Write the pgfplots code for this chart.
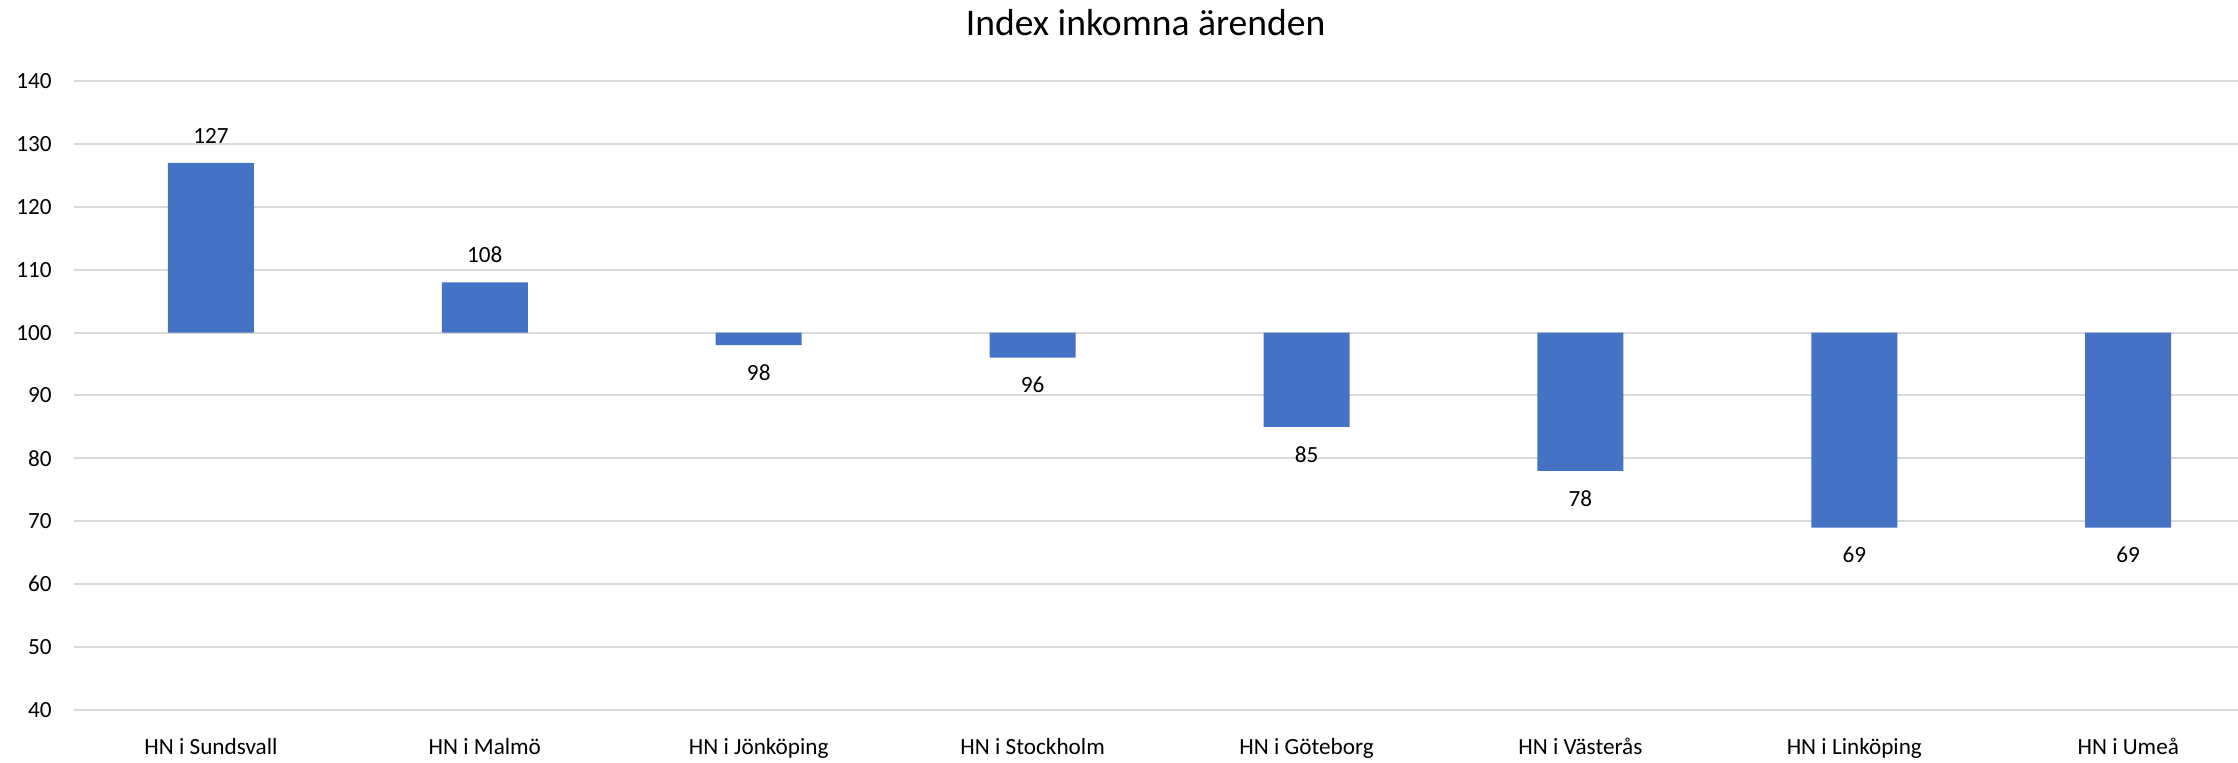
\documentclass[border=0pt]{standalone}
\usepackage{fontspec}
\setmainfont{Carlito}
\usepackage{pgfplots}
\pgfplotsset{compat=1.18}
\definecolor{barblue}{HTML}{4472C4}
\definecolor{gridgray}{HTML}{D9D9D9}
\begin{document}
\begin{tikzpicture}
\begin{axis}[
  at={(37pt,26.5pt)}, anchor=south west,
  width=1082pt, height=314.5pt, scale only axis,
  xmin=-0.5, xmax=7.4,
  ymin=40, ymax=140,
  y coord trafo/.code={\pgfmathparse{#1-100}},
  y coord inv trafo/.code={\pgfmathparse{#1+100}},
  ytick={40,50,60,70,80,90,100,110,120,130,140},
  yticklabels={40,50,60,70,80,90,100,110,120,130,140},
  xtick={0,1,2,3,4,5,6,7},
  xticklabels={HN i Sundsvall,HN i Malmö,HN i Jönköping,HN i Stockholm,HN i Göteborg,HN i Västerås,HN i Linköping,HN i Umeå},
  ymajorgrids, major grid style={gridgray, line width=1pt},
  axis line style={draw=none},
  major tick length=0pt,
  tick label style={font=\fontsize{11.6}{13}\selectfont, inner sep=0pt},
  yticklabel style={anchor=east, xshift=-11pt},
  xticklabel style={anchor=base, yshift=-22.5pt},
  /pgf/number format/assume math mode=true,
  clip=false,
]
\addplot[ybar, bar width=43pt, fill=barblue, draw=none]
  coordinates {(0,127) (1,108) (2,98) (3,96) (4,85) (5,78) (6,69) (7,69)};
% labels above bars
\addplot[draw=none, mark=none, nodes near coords={\pgfplotspointmeta}, point meta=explicit symbolic,
  every node near coord/.style={anchor=south, yshift=9.5pt, inner sep=0pt, font=\fontsize{11.6}{13}\selectfont}]
  coordinates {(0,127) [127] (1,108) [108]};
% labels below bars
\addplot[draw=none, mark=none, nodes near coords={\pgfplotspointmeta}, point meta=explicit symbolic,
  every node near coord/.style={anchor=north, yshift=-9.5pt, inner sep=0pt, font=\fontsize{11.6}{13}\selectfont}]
  coordinates {(2,98) [98] (3,96) [96] (4,85) [85] (5,78) [78] (6,69) [69] (7,69) [69]};
\end{axis}
\node[anchor=base, inner sep=0pt, font=\fontsize{18.8}{22}\selectfont] at (572.8pt,363.5pt) {Index inkomna ärenden};
\pgfresetboundingbox
\useasboundingbox (0,0) rectangle (1119pt,381.5pt);
\end{tikzpicture}
\end{document}
